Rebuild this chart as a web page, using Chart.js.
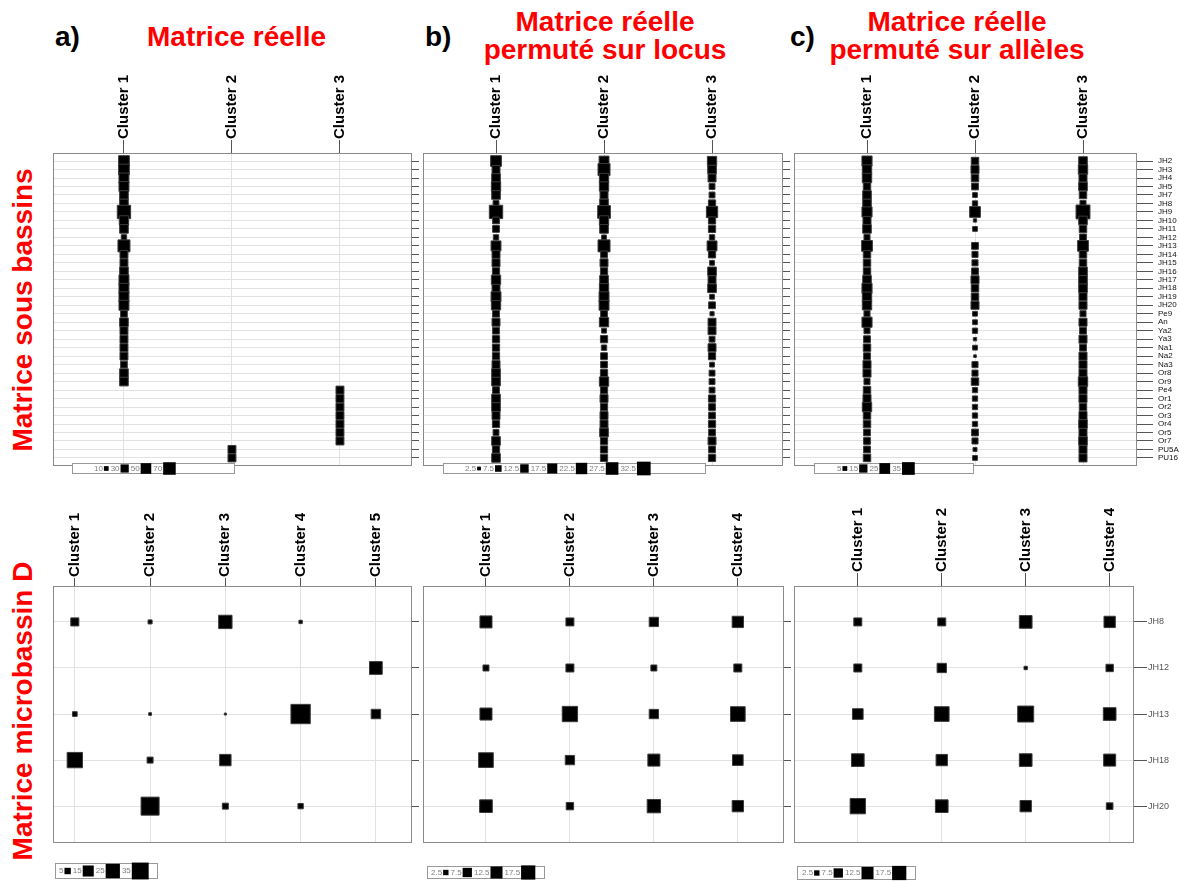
<!DOCTYPE html>
<html>
<head>
<meta charset="utf-8">
<script src="https://cdn.jsdelivr.net/npm/chart.js@4.4.0/dist/chart.umd.min.js"></script>
<style>
  body { margin: 0; background: #fff; width: 1179px; height: 882px; position: relative; overflow: hidden;
         font-family: "Liberation Sans", Arial, sans-serif; }
  canvas { position: absolute; }
  .t { position: absolute; font-weight: bold; font-size: 28px; line-height: 28px; white-space: nowrap; }
  .red { color: #f00; }
  .center { text-align: center; transform: translateX(-50%); }
  .side { position: absolute; font-weight: bold; font-size: 28px; line-height: 28px; color: #f00;
          white-space: nowrap; transform: translate(-50%, -50%) rotate(-90deg); }
</style>
</head>
<body>
<div class="t" style="left:55px;top:23px">a)</div>
<div class="t red" style="left:147px;top:23px">Matrice réelle</div>
<div class="t" style="left:425px;top:23px">b)</div>
<div class="t red center" style="left:605px;top:8px">Matrice réelle<br>permuté sur locus</div>
<div class="t" style="left:790px;top:23px">c)</div>
<div class="t red center" style="left:957px;top:8px">Matrice réelle<br>permuté sur allèles</div>
<div class="side" style="left:23px;top:310px">Matrice sous bassins</div>
<div class="side" style="left:23px;top:711px">Matrice microbassin D</div>

<canvas id="topA" width="371" height="410" style="left:51px;top:70px"></canvas>
<canvas id="topB" width="372" height="410" style="left:421px;top:70px"></canvas>
<canvas id="topC" width="387" height="410" style="left:792px;top:70px"></canvas>
<canvas id="botA" width="371" height="382" style="left:51px;top:500px"></canvas>
<canvas id="botB" width="373" height="382" style="left:421px;top:500px"></canvas>
<canvas id="botC" width="387" height="382" style="left:792px;top:500px"></canvas>

<script>
// row labels
const sitesTop = ['JH2', 'JH3', 'JH4', 'JH5', 'JH7', 'JH8', 'JH9', 'JH10', 'JH11', 'JH12', 'JH13', 'JH14',
  'JH15', 'JH16', 'JH17', 'JH18', 'JH19', 'JH20', 'Pe9', 'An', 'Ya2', 'Ya3', 'Na1', 'Na2', 'Na3', 'Or8',
  'Or9', 'Pe4', 'Or1', 'Or2', 'Or3', 'Or4', 'Or5', 'Or7', 'PU5A', 'PU16'];
const sitesBottom = ['JH8', 'JH12', 'JH13', 'JH18', 'JH20'];

// column labels
const clusters3 = ['Cluster 1', 'Cluster 2', 'Cluster 3'];
const clusters4 = ['Cluster 1', 'Cluster 2', 'Cluster 3', 'Cluster 4'];
const clusters5 = ['Cluster 1', 'Cluster 2', 'Cluster 3', 'Cluster 4', 'Cluster 5'];

// a) sous bassins, matrice réelle
const realTopC1 = [51, 51, 44, 44, 33, 33, 79, 39, 33, 13, 64, 28, 28, 33, 44, 44, 44, 44, 20, 33, 28, 28, 28, 28, 20, 33, 33,
  0, 0, 0, 0, 0, 0, 0, 0, 0];
const realTopC2 = [0, 0, 0, 0, 0, 0, 0, 0, 0, 0, 0, 0, 0, 0, 0, 0, 0, 0, 0, 0, 0, 0, 0, 0, 0, 0, 0,
  0, 0, 0, 0, 0, 0, 0, 28, 28];
const realTopC3 = [0, 0, 0, 0, 0, 0, 0, 0, 0, 0, 0, 0, 0, 0, 0, 0, 0, 0, 0, 0, 0, 0, 0, 0, 0, 0, 0,
  28, 28, 28, 28, 28, 28, 28, 0, 0];

// b) sous bassins, permuté sur locus
const locusTopC1 = [20, 11, 13, 15, 13, 6, 31, 8, 8, 5, 17, 11, 11, 9, 15, 11, 17, 15, 8, 11, 8, 9, 9, 9, 11, 13, 13,
  8, 13, 13, 11, 9, 6, 13, 9, 13];
const locusTopC2 = [17, 25, 15, 15, 11, 13, 28, 15, 13, 4, 25, 8, 11, 9, 13, 15, 17, 17, 8, 15, 4, 9, 5, 8, 8, 9, 15,
  9, 11, 9, 11, 11, 13, 9, 9, 9];
const locusTopC3 = [15, 13, 11, 6, 6, 9, 22, 9, 9, 5, 17, 9, 4, 13, 11, 13, 4, 8, 3, 11, 11, 6, 11, 9, 4, 6, 6,
  6, 9, 8, 8, 9, 8, 11, 8, 9];

// c) sous bassins, permuté sur allèles
const alleleTopC1 = [22, 19, 19, 12, 16, 16, 22, 14, 16, 8, 25, 12, 12, 12, 16, 22, 19, 19, 8, 22, 8, 10, 12, 10, 14, 14, 8,
  12, 14, 19, 12, 12, 10, 10, 10, 12];
const alleleTopC2 = [12, 14, 12, 10, 5, 6, 25, 2.4, 5, 0, 10, 8, 8, 10, 14, 12, 12, 14, 5, 5, 6, 2.4, 5, 1.5, 8, 8, 12,
  6, 6, 6, 6, 6, 10, 8, 3.5, 5];
const alleleTopC3 = [16, 19, 14, 16, 12, 8, 42, 16, 12, 10, 25, 12, 12, 16, 16, 16, 14, 14, 8, 14, 10, 14, 10, 14, 14, 14, 19,
  14, 14, 12, 14, 16, 14, 16, 14, 14];

// a) microbassin D
const realBotC1 = [8, 0, 2.7, 29, 0];
const realBotC2 = [2, 0, 0.9, 4.4, 40];
const realBotC3 = [22, 0, 0.5, 16, 4.4];
const realBotC4 = [1.4, 0, 46, 0, 3.5];
const realBotC5 = [0, 20, 11, 0, 0];

// b) microbassin D, permuté sur locus
const locusBotC1 = [12.5, 3.1, 12.5, 18.6, 13.9];
const locusBotC2 = [5.5, 5.5, 20.3, 7.5, 4.7];
const locusBotC3 = [7.5, 3.1, 7.5, 12.5, 15.4];
const locusBotC4 = [11.1, 5.5, 18.6, 9.8, 11.1];

// c) microbassin D, permuté sur allèles
const alleleBotC1 = [5.5, 5.5, 9.8, 13.9, 20.3];
const alleleBotC2 = [5.5, 7.5, 18.6, 11.1, 13.9];
const alleleBotC3 = [13.9, 1, 22.1, 13.9, 11.1];
const alleleBotC4 = [11.1, 4.7, 13.9, 12.5, 3.8];

// legend keys
const keyTopA = [10, 30, 50, 70];
const keyTopB = [2.5, 7.5, 12.5, 17.5, 22.5, 27.5, 32.5];
const keyTopC = [5, 15, 25, 35];
const keyBotA = [5, 15, 25, 35];
const keyBotB = [2.5, 7.5, 12.5, 17.5];
const keyBotC = [2.5, 7.5, 12.5, 17.5];

Chart.defaults.font.family = '"Liberation Sans", Arial, sans-serif';

function frameAndKey(cfg) {
  return {
    id: 'frameAndKey',
    afterDraw(chart) {
      const { ctx, chartArea: a } = chart;
      ctx.save();
      ctx.strokeStyle = '#8a8a8a';
      ctx.lineWidth = 1;
      ctx.strokeRect(Math.round(a.left) + 0.5, Math.round(a.top) + 0.5,
        Math.round(a.right - a.left) - 1, Math.round(a.bottom - a.top) - 1);

      const L = cfg.key;
      const bx = Math.round(a.left) + L.dx, by = Math.round(a.bottom) + L.dy;
      ctx.fillStyle = '#fff';
      ctx.fillRect(bx, by, L.w, L.h);
      ctx.strokeStyle = '#999';
      ctx.strokeRect(bx + 0.5, by + 0.5, L.w, L.h);
      const mid = by + L.h / 2 + 0.5;
      let x = bx + L.off;
      ctx.font = '8px "Liberation Sans", Arial';
      ctx.textBaseline = 'middle';
      L.values.forEach(v => {
        const txt = String(v);
        ctx.fillStyle = '#808080';
        ctx.fillText(txt, x, mid);
        x += ctx.measureText(txt).width + 1;
        const s = cfg.k * Math.sqrt(v);
        ctx.fillStyle = '#000';
        ctx.fillRect(x, mid - s / 2, s, s);
        x += s + 2;
      });
      ctx.restore();
    }
  };
}

function makePanel(id, cfg) {
  const points = [];
  cfg.series.forEach((vals, ci) => {
    vals.forEach((v, ri) => { if (v > 0) points.push({ x: ci + 1, y: ri, v: v }); });
  });
  return new Chart(document.getElementById(id), {
    type: 'scatter',
    data: {
      datasets: [{
        data: points,
        pointStyle: 'rect',
        backgroundColor: '#000',
        borderColor: '#3a3a3a',
        borderWidth: 1,
        pointRadius: c => c.raw ? cfg.k * Math.sqrt(c.raw.v) / Math.SQRT2 : 0,
        clip: false
      }]
    },
    options: {
      responsive: false,
      animation: false,
      events: [],
      layout: { autoPadding: false, padding: { left: 2, top: 0, right: 0, bottom: cfg.pb } },
      plugins: { legend: { display: false }, tooltip: { enabled: false } },
      scales: {
        x: {
          type: 'linear', position: 'top', min: cfg.xMin, max: cfg.xMax,
          afterBuildTicks: s => { s.ticks = cfg.cols.map((_, i) => ({ value: i + 1 })); },
          afterFit: s => { s.height = cfg.H; },
          grid: { color: '#e2e2e2', tickColor: '#555', tickLength: cfg.tickX },
          border: { display: false },
          ticks: {
            autoSkip: false, minRotation: 90, maxRotation: 90, padding: 1, labelOffset: 18,
            color: '#000', font: { size: 15, weight: 'bold' },
            callback: v => cfg.cols[v - 1]
          }
        },
        y: {
          type: 'linear', position: 'right', reverse: true, min: cfg.yMin, max: cfg.yMax,
          afterBuildTicks: s => { s.ticks = cfg.rows.map((_, i) => ({ value: i })); },
          afterFit: s => { s.width = cfg.W; },
          grid: { color: '#e2e2e2', tickColor: '#555', tickLength: cfg.tickY },
          border: { display: false },
          ticks: {
            autoSkip: false, padding: cfg.padY, color: cfg.labelColor, font: { size: cfg.labelSize },
            callback: v => cfg.showRows ? cfg.rows[v] : ''
          }
        }
      }
    },
    plugins: [frameAndKey(cfg)]
  });
}

makePanel('topA', {
  cols: clusters3, rows: sitesTop, series: [realTopC1, realTopC2, realTopC3], k: 1.5,
  xMin: 0.343, xMax: 3.667, yMin: -0.95, yMax: 35.95, H: 83, W: 10, pb: 14, tickX: 13, tickY: 7,
  showRows: false, padY: 2, labelColor: '#111', labelSize: 8,
  key: { values: keyTopA, dx: 19, dy: -3, w: 162, h: 10, off: 22 }
});
makePanel('topB', {
  cols: clusters3, rows: sitesTop, series: [locusTopC1, locusTopC2, locusTopC3], k: 2.4,
  xMin: 0.324, xMax: 3.657, yMin: -0.95, yMax: 35.95, H: 83, W: 10, pb: 14, tickX: 13, tickY: 7,
  showRows: false, padY: 2, labelColor: '#111', labelSize: 8,
  key: { values: keyTopB, dx: 20, dy: -3, w: 262, h: 10, off: 22 }
});
makePanel('topC', {
  cols: clusters3, rows: sitesTop, series: [alleleTopC1, alleleTopC2, alleleTopC3], k: 2.15,
  xMin: 0.324, xMax: 3.5, yMin: -0.95, yMax: 35.95, H: 83, W: 42, pb: 14, tickX: 13, tickY: 16,
  showRows: true, padY: 5, labelColor: '#111', labelSize: 8,
  key: { values: keyTopC, dx: 20, dy: -3, w: 159, h: 10, off: 23 }
});
makePanel('botA', {
  cols: clusters5, rows: sitesBottom, series: [realBotC1, realBotC2, realBotC3, realBotC4, realBotC5], k: 2.85,
  xMin: 0.71, xMax: 5.48, yMin: -0.78, yMax: 4.8, H: 86, W: 10, pb: 39, tickX: 8, tickY: 7,
  showRows: false, padY: 2, labelColor: '#555', labelSize: 9,
  key: { values: keyBotA, dx: 2, dy: 20, w: 102, h: 15, off: 4 }
});
makePanel('botB', {
  cols: clusters4, rows: sitesBottom, series: [locusBotC1, locusBotC2, locusBotC3, locusBotC4], k: 3.4,
  xMin: 0.25, xMax: 4.55, yMin: -0.78, yMax: 4.8, H: 86, W: 10, pb: 39, tickX: 8, tickY: 7,
  showRows: false, padY: 2, labelColor: '#555', labelSize: 9,
  key: { values: keyBotB, dx: 4, dy: 23, w: 117, h: 12, off: 4 }
});
makePanel('botC', {
  cols: clusters4, rows: sitesBottom, series: [alleleBotC1, alleleBotC2, alleleBotC3, alleleBotC4], k: 3.4,
  xMin: 0.24, xMax: 4.29, yMin: -0.78, yMax: 4.8, H: 86, W: 45, pb: 39, tickX: 13, tickY: 13,
  showRows: true, padY: 1, labelColor: '#555', labelSize: 9,
  key: { values: keyBotC, dx: 3, dy: 23, w: 118, h: 13, off: 5 }
});
</script>
</body>
</html>
